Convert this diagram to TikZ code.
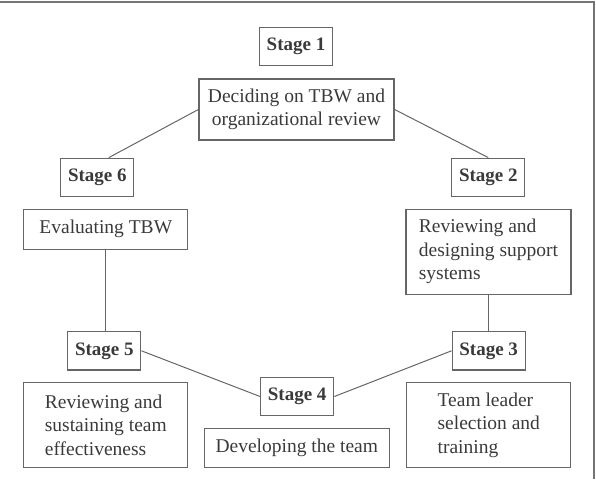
\documentclass[tikz,border=0pt]{standalone}
\usepackage{fontspec}
\setmainfont{Liberation Serif}
\usetikzlibrary{positioning}

\definecolor{ink}{HTML}{3A3A3A}
\definecolor{rule}{HTML}{666666}

\begin{document}
\begin{tikzpicture}[x=1pt, y=-1pt, line width=1.3pt, draw=rule,
	stagebox/.style={draw=rule, text=ink, font=\fontsize{19}{22}\selectfont\bfseries,
		minimum width=73pt, minimum height=38.5pt, inner sep=0pt},
	taskbox/.style={draw=rule, text=ink, font=\fontsize{19.5}{23.5}\selectfont,
		align=left, inner sep=0pt},
	link/.style={draw=rule, line width=1pt}]

\useasboundingbox (0,0) rectangle (596,479);

% frame
\draw[line width=2pt, rule!90] (0,2) -- (594,2) -- (594,479);

% stages
\node[stagebox] (s1) at (296,46.5) {Stage 1};
\node[stagebox] (s2) at (488.3,177.5) {Stage 2};
\node[stagebox] (s3) at (488.7,350.8) {Stage 3};
\node[stagebox] (s4) at (297.2,396.5) {Stage 4};
\node[stagebox] (s5) at (104.3,350.8) {Stage 5};
\node[stagebox] (s6) at (97.3,177.5) {Stage 6};

% what each stage does
\node[taskbox, align=center, minimum width=195pt, minimum height=61pt] (decide) at (296.5,109.5)
	{Deciding on TBW and\\organizational review};
\node[taskbox, minimum width=165pt, minimum height=85pt] (support) at (488.5,251.8)
	{Reviewing and\\designing support\\systems};
\node[taskbox, minimum width=164pt, minimum height=85pt] (leader) at (488.8,425)
	{Team leader\\selection and\\training};
\node[taskbox, minimum width=185pt, minimum height=39pt] (develop) at (296.8,447.8)
	{Developing the team};
\node[taskbox, minimum width=164pt, minimum height=85pt] (sustain) at (105.8,425)
	{Reviewing and\\sustaining team\\effectiveness};
\node[taskbox, minimum width=164pt, minimum height=40pt] (evaluate) at (105.8,229.2)
	{Evaluating TBW};

% the cycle
\draw[link] (decide.west) -- (s6.60);
\draw[link] (decide.east) -- (s2.north);
\draw[link] (support.south) -- (support.south |- s3.north);
\draw[link] (s3.west) -- (s4.east);
\draw[link] (s4.west) -- (s5.east);
\draw[link] (evaluate.south) -- (evaluate.south |- s5.north);

\end{tikzpicture}
\end{document}
